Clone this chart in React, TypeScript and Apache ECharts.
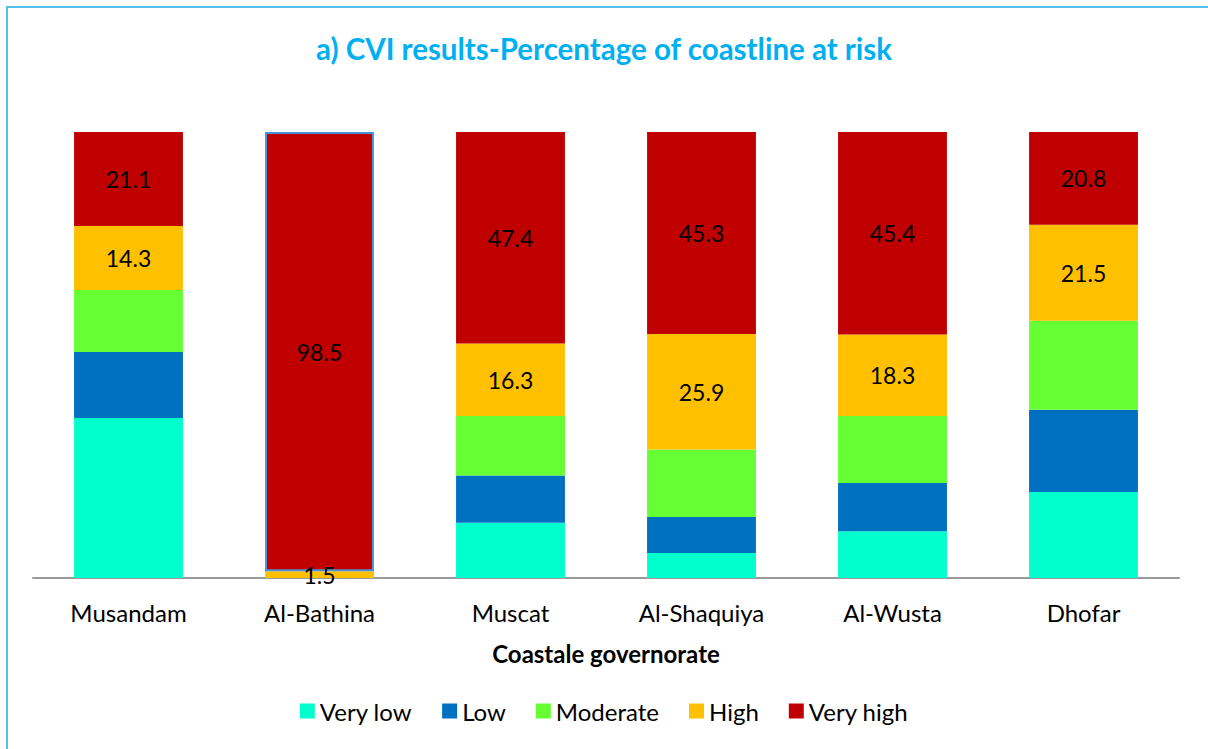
import React, { useEffect, useRef } from "react";
import * as echarts from "echarts";

// Governorates along the coast
const categories = ["Musandam", "Al-Bathina", "Muscat", "Al-Shaquiya", "Al-Wusta", "Dhofar"];

// Percentage of coastline in each vulnerability class
const veryLow = [35.9, 0, 12.4, 5.6, 10.5, 19.3];
const low = [14.8, 0, 10.6, 8.1, 10.8, 18.4];
const moderate = [13.9, 0, 13.3, 15.1, 15.0, 20.0];
const high = [14.3, 1.5, 16.3, 25.9, 18.3, 21.5];
const veryHigh = [21.1, 98.5, 47.4, 45.3, 45.4, 20.8];

const seriesNames = ["Very low", "Low", "Moderate", "High", "Very high"];
const seriesColors = ["#00FFCC", "#0070C0", "#66FF33", "#FFC000", "#C00000"];

const FONT = "Lato, 'Open Sans', sans-serif";

export default function App() {
  const ref = useRef<HTMLDivElement>(null);

  useEffect(() => {
    if (!ref.current) return;
    const chart = echarts.init(ref.current, undefined, { renderer: "svg" });

    const values = [veryLow, low, moderate, high, veryHigh];
    const labelled = [false, false, false, true, true];

    const series = values.map((arr, i) => ({
      name: seriesNames[i],
      type: "bar" as const,
      stack: "total",
      barWidth: "57%",
      itemStyle: { color: seriesColors[i] },
      label: {
        show: labelled[i],
        position: "inside" as const,
        color: "#000",
        fontSize: 23,
        fontFamily: FONT,
        formatter: (p: any) => (p.value > 0 ? p.value.toFixed(1) : ""),
      },
      data: arr.map((v, j) =>
        i === 4 && j === 1
          ? { value: v, itemStyle: { color: seriesColors[i], borderColor: "#4A90D9", borderWidth: 2 } }
          : v
      ),
    }));

    chart.setOption({
      animation: false,
      backgroundColor: "#fff",
      title: {
        text: "a) CVI results-Percentage of coastline at risk",
        left: "center",
        top: 28,
        textStyle: { color: "#00B0F0", fontSize: 29.5, fontWeight: "bold", fontFamily: FONT },
      },
      graphic: [
        {
          type: "rect",
          shape: { x: 7, y: 7, width: 1220, height: 780 },
          style: { fill: "none", stroke: "#55BFEE", lineWidth: 2 },
          silent: true,
        },
      ],
      legend: {
        top: 694,
        left: "center",
        icon: "rect",
        itemWidth: 15,
        itemHeight: 15,
        itemGap: 30,
        textStyle: { fontSize: 24, fontFamily: FONT, color: "#000" },
        data: seriesNames,
      },
      grid: { left: 33, right: 29, top: 132, bottom: 171 },
      xAxis: {
        type: "category",
        data: categories,
        axisTick: { show: false },
        axisLine: { lineStyle: { color: "#999", width: 2 } },
        axisLabel: { fontSize: 24, fontFamily: FONT, color: "#000", margin: 22 },
        name: "Coastale governorate",
        nameLocation: "middle",
        nameGap: 63,
        nameTextStyle: { fontSize: 24, fontWeight: "bold", fontFamily: FONT, color: "#000" },
      },
      yAxis: { type: "value", min: 0, max: 100, show: false },
      series,
    });

    return () => chart.dispose();
  }, []);

  return (
    <div
      ref={ref}
      style={{ position: "absolute", left: 0, top: 0, width: 1208, height: 749 }}
    />
  );
}
